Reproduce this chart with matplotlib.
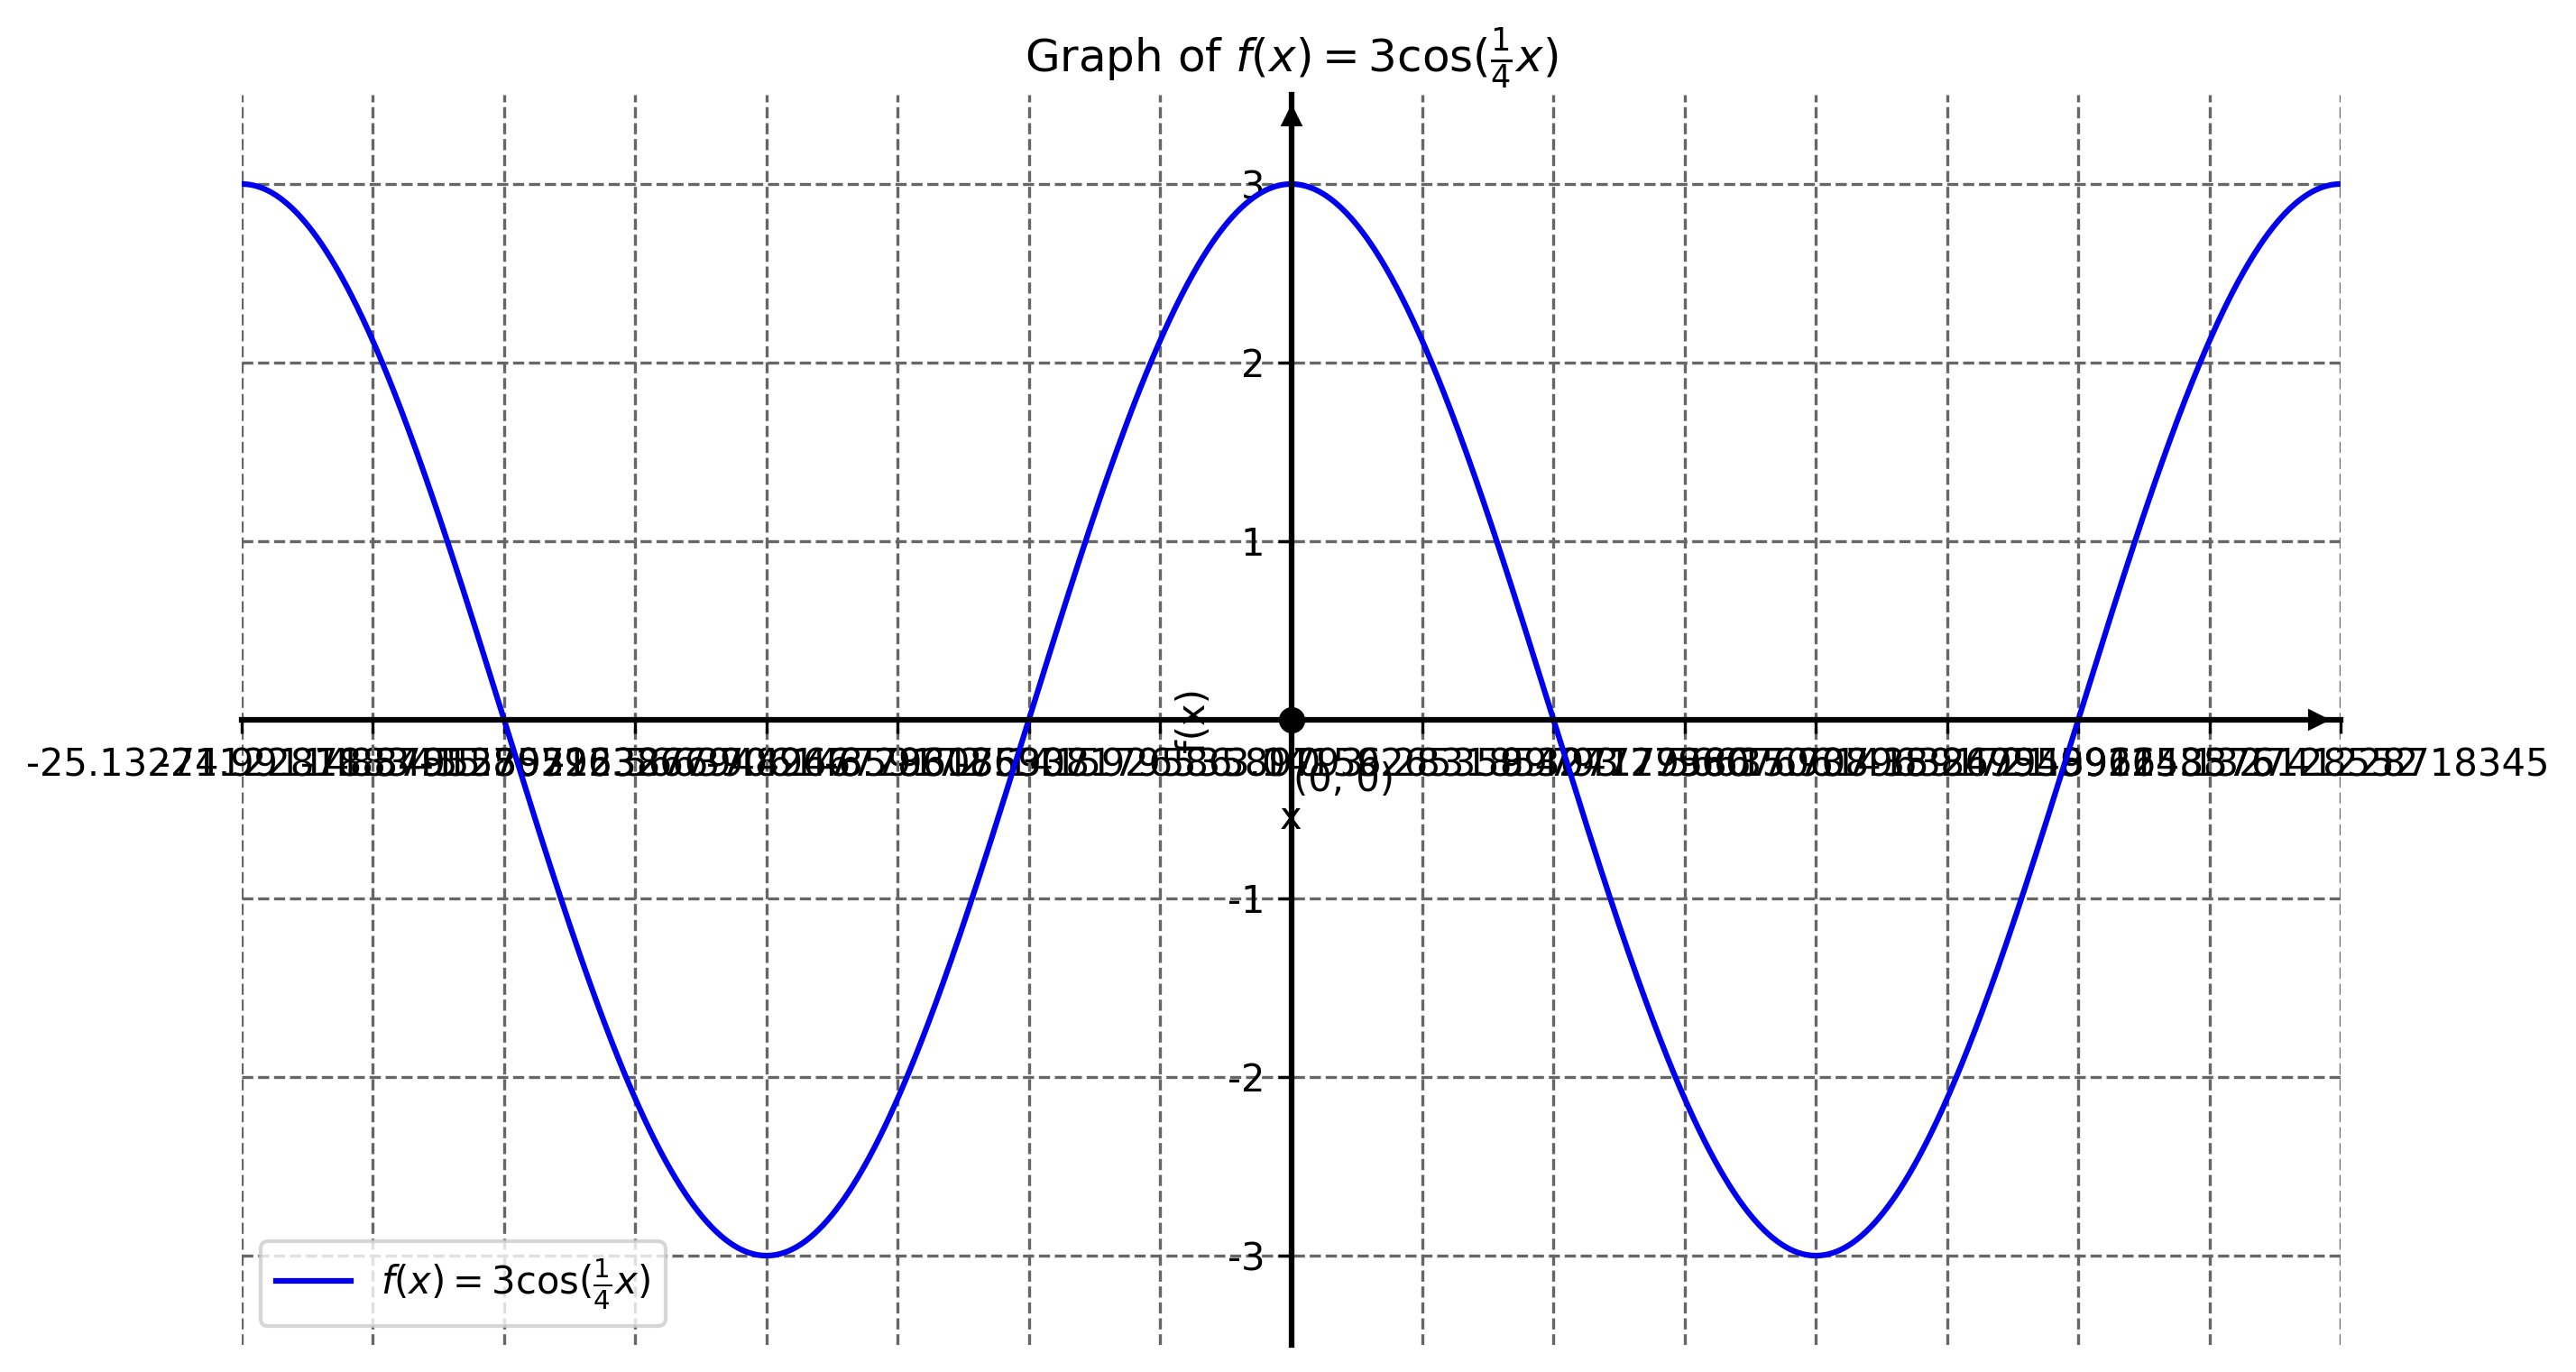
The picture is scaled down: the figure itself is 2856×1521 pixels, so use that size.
import numpy as np
import matplotlib
matplotlib.use("Agg")
import matplotlib.pyplot as plt

# Function definition (read from the title): f(x) = 3 cos(x/4)
amplitude = 3.0
frequency = 0.25

# Axis ranges
x_min, x_max = -8 * np.pi, 8 * np.pi
y_min, y_max = -3.5, 3.5

# Ticks
x_tick_multiples = list(range(-8, 9))          # multiples of pi
y_ticks = [-3, -2, -1, 1, 2, 3]
y_tick_labels = ["-3", "-2", "-1", "1", "2", "3"]

x_ticks = [m * np.pi for m in x_tick_multiples]
x_tick_labels = [str(v) for v in x_ticks]

x_vals = np.linspace(x_min, x_max, 2000)
y_vals = amplitude * np.cos(frequency * x_vals)

fig = plt.figure(figsize=(9.52, 5.07), dpi=300)
ax = fig.add_axes([268 / 2856, 1 - 1491 / 1521, (2595 - 268) / 2856, (1491 - 105) / 1521])

ax.plot(x_vals, y_vals, color="#0000ee", lw=1.5, label=r"$f(x) = 3\cos(\frac{1}{4}x)$")

ax.set_xlim(x_min, x_max)
ax.set_ylim(y_min, y_max)

ax.spines["left"].set_position(("data", 0))
ax.spines["bottom"].set_position(("data", 0))
ax.spines["right"].set_visible(False)
ax.spines["top"].set_visible(False)
ax.spines["left"].set_linewidth(1.5)
ax.spines["bottom"].set_linewidth(1.5)

ax.set_xticks(x_ticks)
ax.set_xticklabels(x_tick_labels)
ax.set_yticks(y_ticks)
ax.set_yticklabels(y_tick_labels)

ax.grid(True, linestyle="--", color="#666666", lw=0.8)

# arrows at the axis ends
ax.plot(x_max - 0.54, 0, ">k", ms=4.5, clip_on=False, zorder=5)
ax.plot(0, y_max - 0.12, "^k", ms=4.5, clip_on=False, zorder=5)

# origin point
ax.plot(0, 0, "ko", ms=6, zorder=6)
ax.annotate("(0, 0)", (0, 0), textcoords="offset points", xytext=(14, -16),
            ha="center", va="center", fontsize=10)

ax.set_xlabel("x")
ax.set_ylabel("f(x)")
ax.set_title(r"Graph of $f(x) = 3\cos(\frac{1}{4}x)$", fontsize=12)

ax.legend(loc="lower left")

fig.savefig("out.png", dpi=300)
